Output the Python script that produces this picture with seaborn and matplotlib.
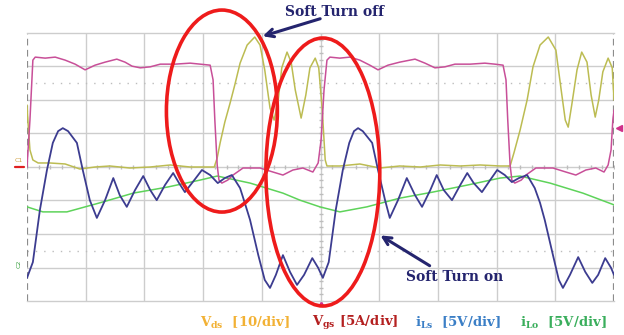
import matplotlib
matplotlib.use("Agg")
import numpy as np
import pandas as pd
import matplotlib.pyplot as plt
import seaborn as sns
from matplotlib.patches import Ellipse

# ---- data (time in divisions, amplitude in divisions) ----
vds_t = [0.00, 0.02, 0.05, 0.10, 0.19, 0.39, 0.65, 0.90, 1.16, 1.41, 1.75, 2.10, 2.44, 2.78, 3.03, 3.19,
         3.24, 3.29, 3.37, 3.46, 3.54, 3.63, 3.75, 3.88, 3.97, 4.05, 4.14, 4.21, 4.28, 4.34, 4.43, 4.50,
         4.57, 4.67, 4.75, 4.82, 4.91, 4.97, 5.03, 5.08, 5.11,
         5.33, 5.67, 6.01, 6.35, 6.70, 7.04, 7.38, 7.72, 8.06, 8.23, 8.30, 8.40, 8.52, 8.62, 8.74, 8.88,
         9.01, 9.10, 9.17, 9.22, 9.28, 9.37, 9.45, 9.54, 9.61, 9.68, 9.74, 9.81, 9.90, 9.97, 10.00]
vds_v = [1.85, 1.25, 0.51, 0.21, 0.12, 0.12, 0.09, -0.06, 0.00, 0.03, -0.03, 0.00, 0.06, 0.00, 0.00, 0.00,
         0.27, 0.72, 1.34, 1.91, 2.45, 3.10, 3.64, 3.88, 3.64, 2.90, 1.76, 1.40, 2.00, 2.96, 3.43, 3.13,
         2.30, 1.46, 2.15, 2.96, 3.25, 2.96, 1.70, 0.21, 0.03,
         0.03, 0.09, -0.03, 0.03, 0.00, 0.06, 0.03, 0.06, 0.03, 0.03, 0.45, 1.10, 2.00, 2.99, 3.64, 3.88,
         3.49, 2.30, 1.40, 1.19, 1.85, 2.90, 3.43, 3.13, 2.15, 1.49, 2.00, 2.84, 3.25, 2.96, 2.00]

vgs_t = [0.00, 0.05, 0.10, 0.14, 0.31, 0.48, 0.65, 0.82, 0.99, 1.16, 1.33, 1.53, 1.67, 1.79, 1.93, 2.10,
         2.27, 2.52, 2.78, 2.95, 3.12, 3.17, 3.20, 3.24, 3.27, 3.32, 3.42, 3.51, 3.68, 3.97, 4.19, 4.36,
         4.53, 4.70, 4.87, 4.96, 5.01, 5.06, 5.11, 5.16,
         5.33, 5.50, 5.67, 5.84, 5.98, 6.15, 6.35, 6.61, 6.78, 6.95, 7.12, 7.29, 7.55, 7.80, 7.97, 8.11,
         8.16, 8.19, 8.23, 8.26, 8.31, 8.42, 8.50, 8.67, 8.96, 9.18, 9.35, 9.52, 9.69, 9.83, 9.90, 9.95,
         9.98, 10.00]
vgs_v = [0.00, 1.40, 3.19, 3.28, 3.25, 3.28, 3.19, 3.07, 2.90, 3.04, 3.13, 3.22, 3.13, 3.01, 2.96, 2.99,
         3.07, 3.07, 3.10, 3.07, 3.04, 2.60, 1.40, 0.06, -0.39, -0.48, -0.39, -0.24, -0.03, -0.03, -0.15, -0.24,
         -0.09, -0.03, -0.15, 0.12, 0.81, 2.30, 3.19, 3.28,
         3.25, 3.28, 3.19, 3.04, 2.90, 3.04, 3.13, 3.22, 3.10, 2.96, 2.99, 3.07, 3.07, 3.10, 3.07, 3.04,
         2.60, 1.40, 0.06, -0.39, -0.48, -0.39, -0.24, -0.03, -0.03, -0.15, -0.24, -0.09, -0.03, -0.15, 0.06, 0.51,
         1.40, 1.70]

ils_t = [0.00, 0.10, 0.22, 0.34, 0.44, 0.53, 0.61, 0.70, 0.85, 0.95, 1.07, 1.19, 1.33, 1.47, 1.58, 1.70,
         1.84, 1.98, 2.10, 2.21, 2.35, 2.49, 2.59, 2.69, 2.85, 2.98, 3.12, 3.25, 3.37, 3.49, 3.63, 3.71,
         3.80, 3.94, 4.05, 4.14, 4.24, 4.36, 4.48, 4.60, 4.72, 4.86, 4.96, 5.04,
         5.14, 5.26, 5.38, 5.49, 5.57, 5.64, 5.72, 5.88, 5.98, 6.10, 6.18, 6.32, 6.47, 6.61, 6.73, 6.87,
         6.98, 7.10, 7.24, 7.38, 7.50, 7.61, 7.75, 7.89, 8.01, 8.14, 8.26, 8.38, 8.52, 8.65, 8.74, 8.82,
         8.96, 9.06, 9.13, 9.25, 9.39, 9.51, 9.63, 9.73, 9.85, 9.95, 10.00]
ils_v = [-3.31, -2.84, -1.28, -0.09, 0.72, 1.07, 1.16, 1.07, 0.72, -0.09, -0.99, -1.52, -0.99, -0.33, -0.84, -1.19,
         -0.69, -0.27, -0.69, -0.99, -0.54, -0.18, -0.48, -0.75, -0.39, -0.09, -0.24, -0.48, -0.33, -0.24, -0.63, -1.07,
         -1.58, -2.63, -3.37, -3.61, -3.22, -2.63, -3.13, -3.52, -3.22, -2.72, -3.01, -3.31,
         -2.84, -1.28, -0.09, 0.72, 1.07, 1.16, 1.07, 0.72, -0.09, -0.99, -1.52, -0.99, -0.33, -0.84, -1.19, -0.69,
         -0.24, -0.69, -0.99, -0.54, -0.18, -0.48, -0.75, -0.39, -0.09, -0.24, -0.45, -0.33, -0.24, -0.63, -1.07, -1.58,
         -2.63, -3.37, -3.61, -3.22, -2.69, -3.13, -3.46, -3.22, -2.72, -3.01, -3.22]

ilo_t = [0.00, 0.27, 0.68, 1.24, 1.81, 2.39, 2.95, 3.24, 3.80, 4.36, 4.65, 4.99, 5.33, 5.79, 6.35, 6.91,
         7.50, 8.06, 8.40, 8.91, 9.47, 10.00]
ilo_v = [-1.19, -1.34, -1.34, -1.07, -0.78, -0.60, -0.39, -0.27, -0.48, -0.78, -0.99, -1.19, -1.34, -1.19, -0.93, -0.75,
         -0.54, -0.33, -0.27, -0.48, -0.78, -1.13]

legend_labels = [r"$\mathbf{V_{ds}}$  [10/div]", r"$\mathbf{V_{gs}}$ [5A/div]",
                 r"$\mathbf{i_{Ls}}$  [5V/div]", r"$\mathbf{i_{Lo}}$  [5V/div]"]
legend_colors = ["#f2b134", "#b42020", "#3b7fc6", "#3aae5c"]
legend_x_px = [200, 312, 415, 520]

# ---- style ----
sns.set_style("white")
plt.rcParams['font.family'] = ['DejaVu Serif']
plt.rcParams['mathtext.fontset'] = 'dejavuserif'

W, H = 624, 335
fig = plt.figure(figsize=(W / 100, H / 100), dpi=100)
fig.patch.set_facecolor("white")
ax = fig.add_axes([27 / W, 1 - 301 / H, 587 / W, 268 / H])
ax.set_xlim(0, 10)
ax.set_ylim(-4, 4)
ax.set_xticks([])
ax.set_yticks([])

# graticule
gc = "#cdcdcd"
for gx in range(1, 10):
    ax.axvline(gx, color=gc, lw=1.0, zorder=0)
for gy in range(-3, 4):
    ax.axhline(gy, color=gc, lw=1.0, zorder=0)
for gy in (2.5, -2.5):
    ax.axhline(gy, color="#bdbdbd", lw=1.0, ls=(0, (1, 5)), zorder=0)
ax.plot(np.arange(0, 10.01, 0.2), np.zeros(51), ls="none", marker="|", ms=3, color="#bdbdbd", zorder=0)
ax.plot(np.full(41, 5.0), np.arange(-4, 4.01, 0.2), ls="none", marker="_", ms=3, color="#bdbdbd", zorder=0)
for s in ("top", "bottom"):
    ax.spines[s].set_color(gc)
    ax.spines[s].set_linewidth(1.0)
for s in ("left", "right"):
    ax.spines[s].set_visible(False)
for xe in (0, 10):
    ax.axvline(xe, color="#8c8c8c", lw=1.6, ls=(0, (3, 2)), zorder=1)

# traces
sns.lineplot(x=ilo_t, y=ilo_v, ax=ax, color="#5ed35a", lw=1.1, estimator=None, sort=False, zorder=3)
sns.lineplot(x=vds_t, y=vds_v, ax=ax, color="#bcbc52", lw=1.1, estimator=None, sort=False, zorder=4)
sns.lineplot(x=vgs_t, y=vgs_v, ax=ax, color="#c84f98", lw=1.1, estimator=None, sort=False, zorder=5)
sns.lineplot(x=ils_t, y=ils_v, ax=ax, color="#3c3c90", lw=1.3, estimator=None, sort=False, zorder=6)

# channel markers
ax.text(-0.14, 0.18, "C1", fontsize=4.5, color="#d0a040", ha="center", va="center", family="DejaVu Sans")
ax.plot([-0.2, -0.05], [0, 0], color="#e02020", lw=1.6, clip_on=False)
ax.text(-0.14, -2.9, "C2", fontsize=4.5, color="#3aa040", ha="center", va="center", rotation=90,
        family="DejaVu Sans")
ax.plot(10.09, 1.16, marker="<", color="#d0308a", ms=4, clip_on=False)
ax.plot(5.0, -4.05, marker="^", color="#d0308a", ms=2.5, clip_on=False)

# red ellipses
ax.add_patch(Ellipse((3.32, 1.67), 1.89, 6.03, fill=False, ec="#ee1b1b", lw=2.6, clip_on=False, zorder=10))
ax.add_patch(Ellipse((5.04, -0.15), 1.94, 8.0, fill=False, ec="#ee1b1b", lw=2.6, clip_on=False, zorder=10))

# annotations
navy = "#24246e"
ax.annotate("", xy=(3.97, 3.88), xytext=(5.04, 4.45),
            arrowprops=dict(arrowstyle="->", color=navy, lw=2.2, mutation_scale=14),
            annotation_clip=False, zorder=11)
ax.annotate("", xy=(5.98, -2.0), xytext=(6.90, -2.99),
            arrowprops=dict(arrowstyle="->", color=navy, lw=2.2, mutation_scale=14),
            annotation_clip=False, zorder=11)
fig.text(335 / W, 1 - 12 / H, "Soft Turn off", color=navy, fontsize=10, fontweight="bold",
         ha="center", va="center")
fig.text(455 / W, 1 - 277 / H, "Soft Turn on", color=navy, fontsize=10, fontweight="bold",
         ha="center", va="center")

# legend-like labels
for lab, col, xp in zip(legend_labels, legend_colors, legend_x_px):
    fig.text(xp / W, 1 - 323 / H, lab, color=col, fontsize=9.5, fontweight="bold", ha="left", va="center")

fig.savefig("out.png", dpi=100)
